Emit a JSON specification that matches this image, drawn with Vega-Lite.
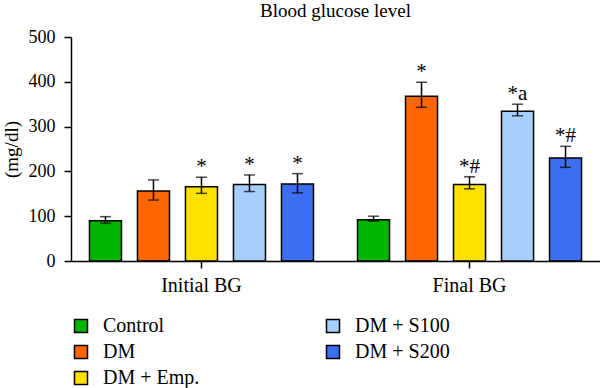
{
  "$schema": "https://vega.github.io/schema/vega-lite/v6.json",
  "width": 529,
  "height": 224,
  "autosize": {"type": "none"},
  "padding": {"left": 71, "top": 37, "right": 0, "bottom": 127},
  "background": "white",
  "title": {"text": "Blood glucose level", "font": "Liberation Serif", "fontSize": 19, "fontWeight": "normal", "color": "black", "anchor": "middle", "offset": 7},
  "data": {"values": [
    {"time": "Initial BG", "group": "Control", "mean": 90, "lo": 84, "hi": 99, "sig": ""},
    {"time": "Initial BG", "group": "DM", "mean": 156, "lo": 136, "hi": 181, "sig": ""},
    {"time": "Initial BG", "group": "DM + Emp.", "mean": 166, "lo": 151, "hi": 187, "sig": "*"},
    {"time": "Initial BG", "group": "DM + S100", "mean": 171, "lo": 155, "hi": 192, "sig": "*"},
    {"time": "Initial BG", "group": "DM + S200", "mean": 172, "lo": 152, "hi": 195, "sig": "*"},
    {"time": "Final BG", "group": "Control", "mean": 92, "lo": 89, "hi": 100, "sig": ""},
    {"time": "Final BG", "group": "DM", "mean": 368, "lo": 343, "hi": 399, "sig": "*"},
    {"time": "Final BG", "group": "DM + Emp.", "mean": 171, "lo": 161, "hi": 188, "sig": "*#"},
    {"time": "Final BG", "group": "DM + S100", "mean": 334, "lo": 324, "hi": 350, "sig": "*a"},
    {"time": "Final BG", "group": "DM + S200", "mean": 230, "lo": 209, "hi": 256, "sig": "*#"}
  ]},
  "encoding": {
    "x": {"field": "time", "type": "nominal", "sort": ["Initial BG", "Final BG"],
      "scale": {"paddingInner": 0.1045, "paddingOuter": 0.039},
      "axis": {"title": null, "labelAngle": 0, "labelFont": "Liberation Serif", "labelFontSize": 20, "labelColor": "black", "tickSize": 7, "labelPadding": 7, "domainColor": "black", "tickColor": "black", "domainWidth": 1.5, "tickWidth": 1.5}},
    "xOffset": {"field": "group", "type": "nominal",
      "scale": {"domain": ["Control", "DM", "DM + Emp.", "DM + S100", "DM + S200"], "paddingInner": 0.333, "paddingOuter": 0.1667}}
  },
  "layer": [
    {
      "mark": {"type": "bar", "stroke": "black", "strokeWidth": 1.5},
      "encoding": {
        "y": {"field": "mean", "type": "quantitative",
          "scale": {"domain": [0, 500], "nice": false},
          "axis": {"title": "(mg/dl)", "values": [0, 100, 200, 300, 400, 500], "grid": false, "tickSize": 7, "labelPadding": 9, "labelFont": "Liberation Serif", "labelFontSize": 18, "labelColor": "black", "titleFont": "Liberation Serif", "titleFontSize": 19, "titleFontWeight": "normal", "titleColor": "black", "titlePadding": 7, "domainColor": "black", "tickColor": "black", "domainWidth": 1.5, "tickWidth": 1.5}},
        "color": {"field": "group", "type": "nominal",
          "scale": {"domain": ["Control", "DM", "DM + Emp.", "DM + S100", "DM + S200"],
            "range": ["#00b400", "#ff6600", "#ffe100", "#a6d0fb", "#3d6ef0"]},
          "legend": {"title": null, "orient": "none", "legendX": 0, "legendY": 279, "columns": 2, "columnPadding": 123, "rowPadding": 6, "symbolType": "square", "symbolSize": 169, "symbolStrokeColor": "black", "symbolStrokeWidth": 1.5, "symbolOpacity": 1, "labelFont": "Liberation Serif", "labelFontSize": 20, "labelColor": "black", "labelOffset": 12, "padding": 0, "labelLimit": 200}}
      }
    },
    {
      "mark": {"type": "rule", "color": "black", "strokeWidth": 1.5},
      "encoding": {"y": {"field": "lo", "type": "quantitative"}, "y2": {"field": "hi"}}
    },
    {
      "mark": {"type": "tick", "color": "black", "size": 11, "thickness": 1.5},
      "encoding": {"y": {"field": "hi", "type": "quantitative"}}
    },
    {
      "mark": {"type": "tick", "color": "black", "size": 11, "thickness": 1.5},
      "encoding": {"y": {"field": "lo", "type": "quantitative"}}
    },
    {
      "mark": {"type": "text", "font": "Liberation Serif", "fontSize": 21, "color": "black", "baseline": "alphabetic", "dy": -4},
      "encoding": {"y": {"field": "hi", "type": "quantitative"}, "text": {"field": "sig"}}
    }
  ],
  "config": {"view": {"stroke": null}}
}
